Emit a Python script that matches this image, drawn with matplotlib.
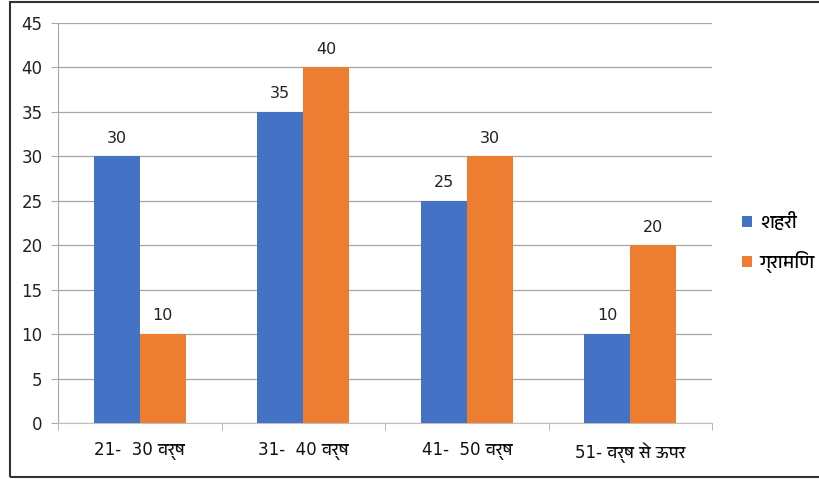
import matplotlib
matplotlib.use("Agg")
import matplotlib.pyplot as plt
import numpy as np
from matplotlib.patches import Rectangle
from matplotlib import font_manager

categories = ["21-  30 वर्ष", "31-  40 वर्ष", "41-  50 वर्ष", "51- वर्ष से ऊपर"]
urban = [30, 35, 25, 10]
rural = [10, 40, 30, 20]
series_names = ["शहरी", "ग्रामिण"]
y_ticks = list(range(0, 50, 5))

BLUE = "#4472C4"
ORANGE = "#ED7D31"

# pick a font with Devanagari if one exists
names = {f.name for f in font_manager.fontManager.ttflist}
deva = [n for n in names if "Devanagari" in n or n in ("Lohit Devanagari", "Mangal", "FreeSans")]
plt.rcParams["font.family"] = ["DejaVu Sans"] + sorted(deva)

fig = plt.figure(figsize=(8.19, 4.79), dpi=100)
ax = fig.add_axes([58 / 819, 56 / 479, 654 / 819, 400 / 479])

x = np.arange(len(categories))
w = 0.28
b1 = ax.bar(x - w / 2, urban, w, color=BLUE, zorder=3)
b2 = ax.bar(x + w / 2, rural, w, color=ORANGE, zorder=3)
for bars in (b1, b2):
    for r in bars:
        ax.text(r.get_x() + r.get_width() / 2, r.get_height() + 1.2, f"{int(r.get_height())}",
                ha="center", va="bottom", fontsize=11.5, color="#222222")

ax.set_xlim(-0.5, len(categories) - 0.5)
ax.set_ylim(0, 45)
ax.set_yticks(y_ticks)
ax.tick_params(axis="y", labelsize=12, length=5, color="#aaaaaa", pad=6, labelcolor="#222222")
ax.set_xticks(x)
ax.set_xticklabels(categories, fontsize=12, color="#111111")
ax.tick_params(axis="x", length=0, pad=14)
ax.set_xticks(np.arange(len(categories) + 1) - 0.5, minor=True)
ax.tick_params(axis="x", which="minor", length=5, color="#aaaaaa")
ax.grid(axis="y", color="#a6a6a6", linewidth=0.9, zorder=0)
for s in ("top", "right"):
    ax.spines[s].set_visible(False)
ax.spines["left"].set_color("#a6a6a6")
ax.spines["bottom"].set_color("#bfbfbf")

ax.legend([b1, b2], series_names, loc="center left", bbox_to_anchor=(1.02, 0.45),
          frameon=False, fontsize=13.5, handlelength=0.55, handleheight=0.55, labelspacing=1.0,
          handletextpad=0.4)

fig.patches.append(Rectangle((10 / 819, 2 / 479), 820 / 819, 475 / 479, transform=fig.transFigure,
                             fill=False, edgecolor="#333333", linewidth=1.5))

fig.savefig("out.png", dpi=100)
